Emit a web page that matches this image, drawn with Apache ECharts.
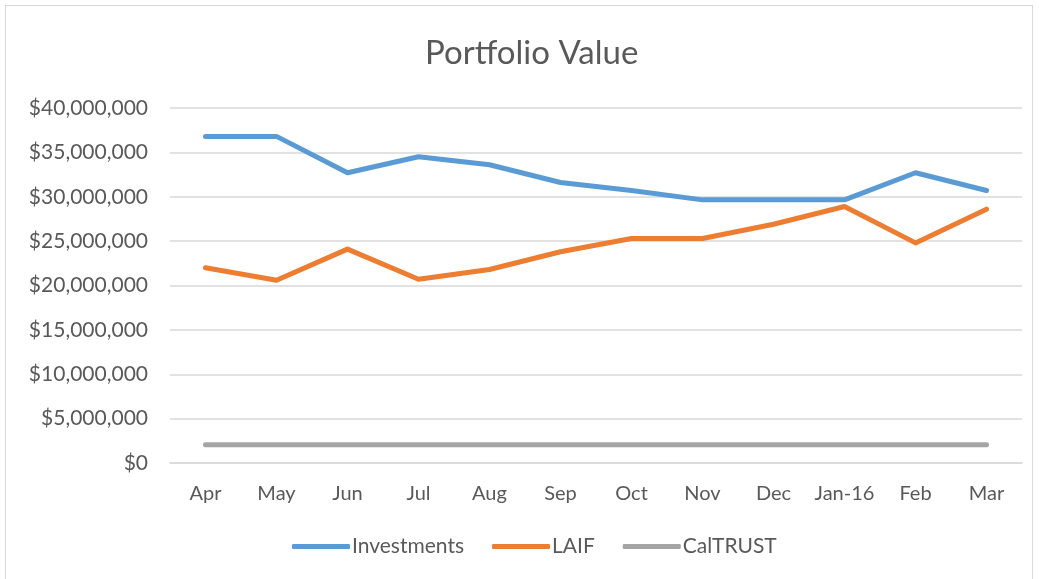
<!DOCTYPE html>
<html>
<head>
<meta charset="utf-8">
<script src="https://cdn.jsdelivr.net/npm/echarts@6/dist/echarts.min.js"></script>
<style>
  html, body { margin: 0; padding: 0; background: #fff; }
  #frame { position: absolute; left: 5px; top: 5px; width: 1028px; height: 590px; border: 1px solid #d9d9d9; box-sizing: border-box; }
  #chart { position: absolute; left: 0; top: 0; width: 1039px; height: 579px; }
</style>
</head>
<body>
<div id="frame"></div>
<div id="chart"></div>
<script>
const months = ["Apr", "May", "Jun", "Jul", "Aug", "Sep", "Oct", "Nov", "Dec", "Jan-16", "Feb", "Mar"];
const investments = [36800000, 36800000, 32700000, 34500000, 33600000, 31600000, 30700000, 29650000, 29650000, 29650000, 32700000, 30700000];
const laif = [22000000, 20600000, 24100000, 20700000, 21800000, 23800000, 25300000, 25300000, 26900000, 28900000, 24800000, 28600000];
const calTrust = [2050000, 2050000, 2050000, 2050000, 2050000, 2050000, 2050000, 2050000, 2050000, 2050000, 2050000, 2050000];

const textColor = "#595959";
const font = "Lato, 'Liberation Sans', sans-serif";

function money(v) {
  return "$" + v.toLocaleString("en-US");
}

function lineSeries(name, data, color) {
  return {
    name,
    type: "line",
    data,
    symbol: "none",
    lineStyle: { width: 5, color, cap: "round", join: "round" },
    itemStyle: { color },
  };
}

const chart = echarts.init(document.getElementById("chart"));
chart.setOption({
  animation: false,
  title: {
    text: "Portfolio Value",
    left: 420,
    top: 32,
    textStyle: { fontFamily: font, fontSize: 33, fontWeight: "normal", color: textColor },
  },
  grid: { left: 170, right: 17, top: 108, bottom: 116 },
  legend: {
    bottom: 17,
    left: 287,
    itemWidth: 58,
    itemHeight: 5,
    itemGap: 28,
    icon: "roundRect",
    textStyle: { fontFamily: font, fontSize: 21, color: textColor, padding: [0, 0, 0, -3] },
    data: ["Investments", "LAIF", "CalTRUST"],
  },
  xAxis: {
    type: "category",
    data: months,
    boundaryGap: true,
    axisLine: { lineStyle: { color: "#d9d9d9", width: 1.5 } },
    axisTick: { show: false },
    axisLabel: { fontFamily: font, fontSize: 20, color: textColor, margin: 21, interval: 0 },
  },
  yAxis: {
    type: "value",
    min: 0,
    max: 40000000,
    interval: 5000000,
    axisLine: { show: false },
    axisTick: { show: false },
    splitLine: { lineStyle: { color: "#d9d9d9", width: 1.5 } },
    axisLabel: { fontFamily: font, fontSize: 21, color: textColor, margin: 22, formatter: money },
  },
  series: [
    lineSeries("Investments", investments, "#5b9bd5"),
    lineSeries("LAIF", laif, "#ed7d31"),
    lineSeries("CalTRUST", calTrust, "#a5a5a5"),
  ],
});
</script>
</body>
</html>
